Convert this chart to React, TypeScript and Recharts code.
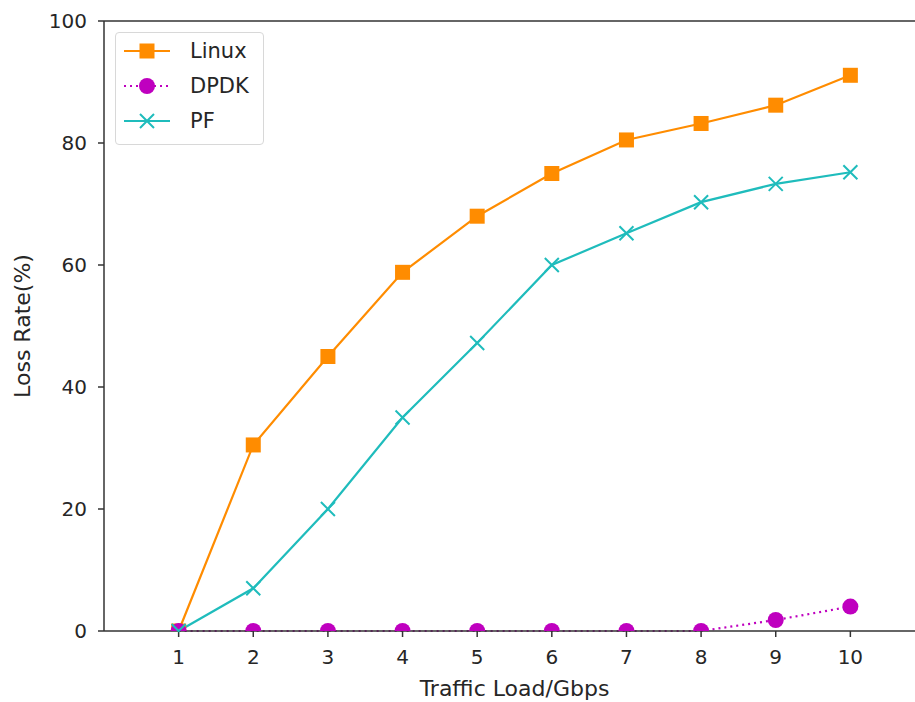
import { LineChart, Line, XAxis, YAxis, ReferenceLine } from "recharts";

const loads = [1, 2, 3, 4, 5, 6, 7, 8, 9, 10];
const linux = [0, 30.5, 45, 58.8, 68, 75, 80.5, 83.2, 86.2, 91.1];
const dpdk = [0, 0, 0, 0, 0, 0, 0, 0, 1.8, 4];
const pf = [0, 7, 20, 35, 47.2, 60, 65.2, 70.3, 73.3, 75.2];
const yTicks = [0, 20, 40, 60, 80, 100];

const ORANGE = "#ff8c00";
const MAGENTA = "#bf00bf";
const CYAN = "#1fbcbc";
const FONT = "'DejaVu Sans', sans-serif";
const INK = "#262626";

const data = loads.map((x, i) => ({ x, linux: linux[i], dpdk: dpdk[i], pf: pf[i] }));

// matplotlib clips markers to the axes, so points sitting on 0 show only their top half
const square = (p: any) =>
  p.value === 0 ? (
    <rect key={`s${p.index}`} x={p.cx - 7.5} y={p.cy - 7.5} width={15} height={7.5} fill={ORANGE} />
  ) : (
    <rect key={`s${p.index}`} x={p.cx - 7.5} y={p.cy - 7.5} width={15} height={15} fill={ORANGE} />
  );
const circle = (p: any) =>
  p.value === 0 ? (
    <path key={`c${p.index}`} d={`M${p.cx - 8},${p.cy}A8,8 0 0 1 ${p.cx + 8},${p.cy}Z`} fill={MAGENTA} />
  ) : (
    <circle key={`c${p.index}`} cx={p.cx} cy={p.cy} r={8} fill={MAGENTA} />
  );
const cross = (p: any) => (
  <path
    key={`x${p.index}`}
    d={
      p.value === 0
        ? `M${p.cx - 7},${p.cy - 7}L${p.cx},${p.cy}L${p.cx + 7},${p.cy - 7}`
        : `M${p.cx - 7},${p.cy - 7}L${p.cx + 7},${p.cy + 7}M${p.cx - 7},${p.cy + 7}L${p.cx + 7},${p.cy - 7}`
    }
    fill="none"
    stroke={CYAN}
    strokeWidth={2}
  />
);

const legendItems = [
  { name: "Linux", color: ORANGE, dash: undefined, mark: "square" },
  { name: "DPDK", color: MAGENTA, dash: "2 4", mark: "circle" },
  { name: "PF", color: CYAN, dash: undefined, mark: "cross" },
];

function LegendBox() {
  return (
    <div
      style={{
        position: "absolute",
        left: 115,
        top: 32,
        width: 147,
        height: 111,
        border: "1px solid #d8d8d8",
        borderRadius: 4,
        background: "rgba(255,255,255,0.85)",
        fontFamily: FONT,
        fontSize: 21,
        color: INK,
      }}
    >
      {legendItems.map((it, i) => (
        <div key={it.name} style={{ position: "absolute", left: 6, top: 5 + i * 35, height: 26, display: "flex", alignItems: "center" }}>
          <svg width={50} height={26}>
            <line x1={2} y1={13} x2={48} y2={13} stroke={it.color} strokeWidth={2.2} strokeDasharray={it.dash} />
            {it.mark === "square" && <rect x={17.5} y={5.5} width={15} height={15} fill={it.color} />}
            {it.mark === "circle" && <circle cx={25} cy={13} r={8} fill={it.color} />}
            {it.mark === "cross" && <path d="M18,6L32,20M18,20L32,6" stroke={it.color} strokeWidth={2} />}
          </svg>
          <span style={{ marginLeft: 18 }}>{it.name}</span>
        </div>
      ))}
    </div>
  );
}

export default function App() {
  return (
    <div style={{ position: "absolute", left: 0, top: 0, width: 915, height: 702, background: "#fff" }}>
      <LineChart width={915} height={702} data={data} margin={{ top: 21, right: -10, bottom: 0, left: 0 }}>
        <XAxis
          dataKey="x"
          type="number"
          domain={[0, 11]}
          ticks={loads}
          height={71}
          tickSize={6}
          tickMargin={13}
          stroke="#333"
          strokeWidth={1.5}
          tick={{ fill: INK, fontSize: 20, fontFamily: FONT }}
          label={{ value: "Traffic Load/Gbps", position: "insideBottom", offset: 6, fill: INK, fontSize: 22, fontFamily: FONT }}
        />
        <YAxis
          type="number"
          domain={[0, 100]}
          ticks={yTicks}
          width={104}
          tickSize={6}
          tickMargin={11}
          stroke="#333"
          strokeWidth={1.5}
          tick={{ fill: INK, fontSize: 20, fontFamily: FONT }}
          label={{ value: "Loss Rate(%)", angle: -90, position: "insideLeft", offset: 22, fill: INK, fontSize: 22, fontFamily: FONT, style: { textAnchor: "middle" } }}
        />
        <ReferenceLine y={100} stroke="#333" strokeWidth={1.5} />
        <Line dataKey="linux" stroke={ORANGE} strokeWidth={2.2} dot={square} isAnimationActive={false} />
        <Line dataKey="dpdk" stroke={MAGENTA} strokeWidth={2.2} strokeDasharray="2 4" dot={circle} isAnimationActive={false} />
        <Line dataKey="pf" stroke={CYAN} strokeWidth={2.2} dot={cross} isAnimationActive={false} />
      </LineChart>
      <LegendBox />
    </div>
  );
}
